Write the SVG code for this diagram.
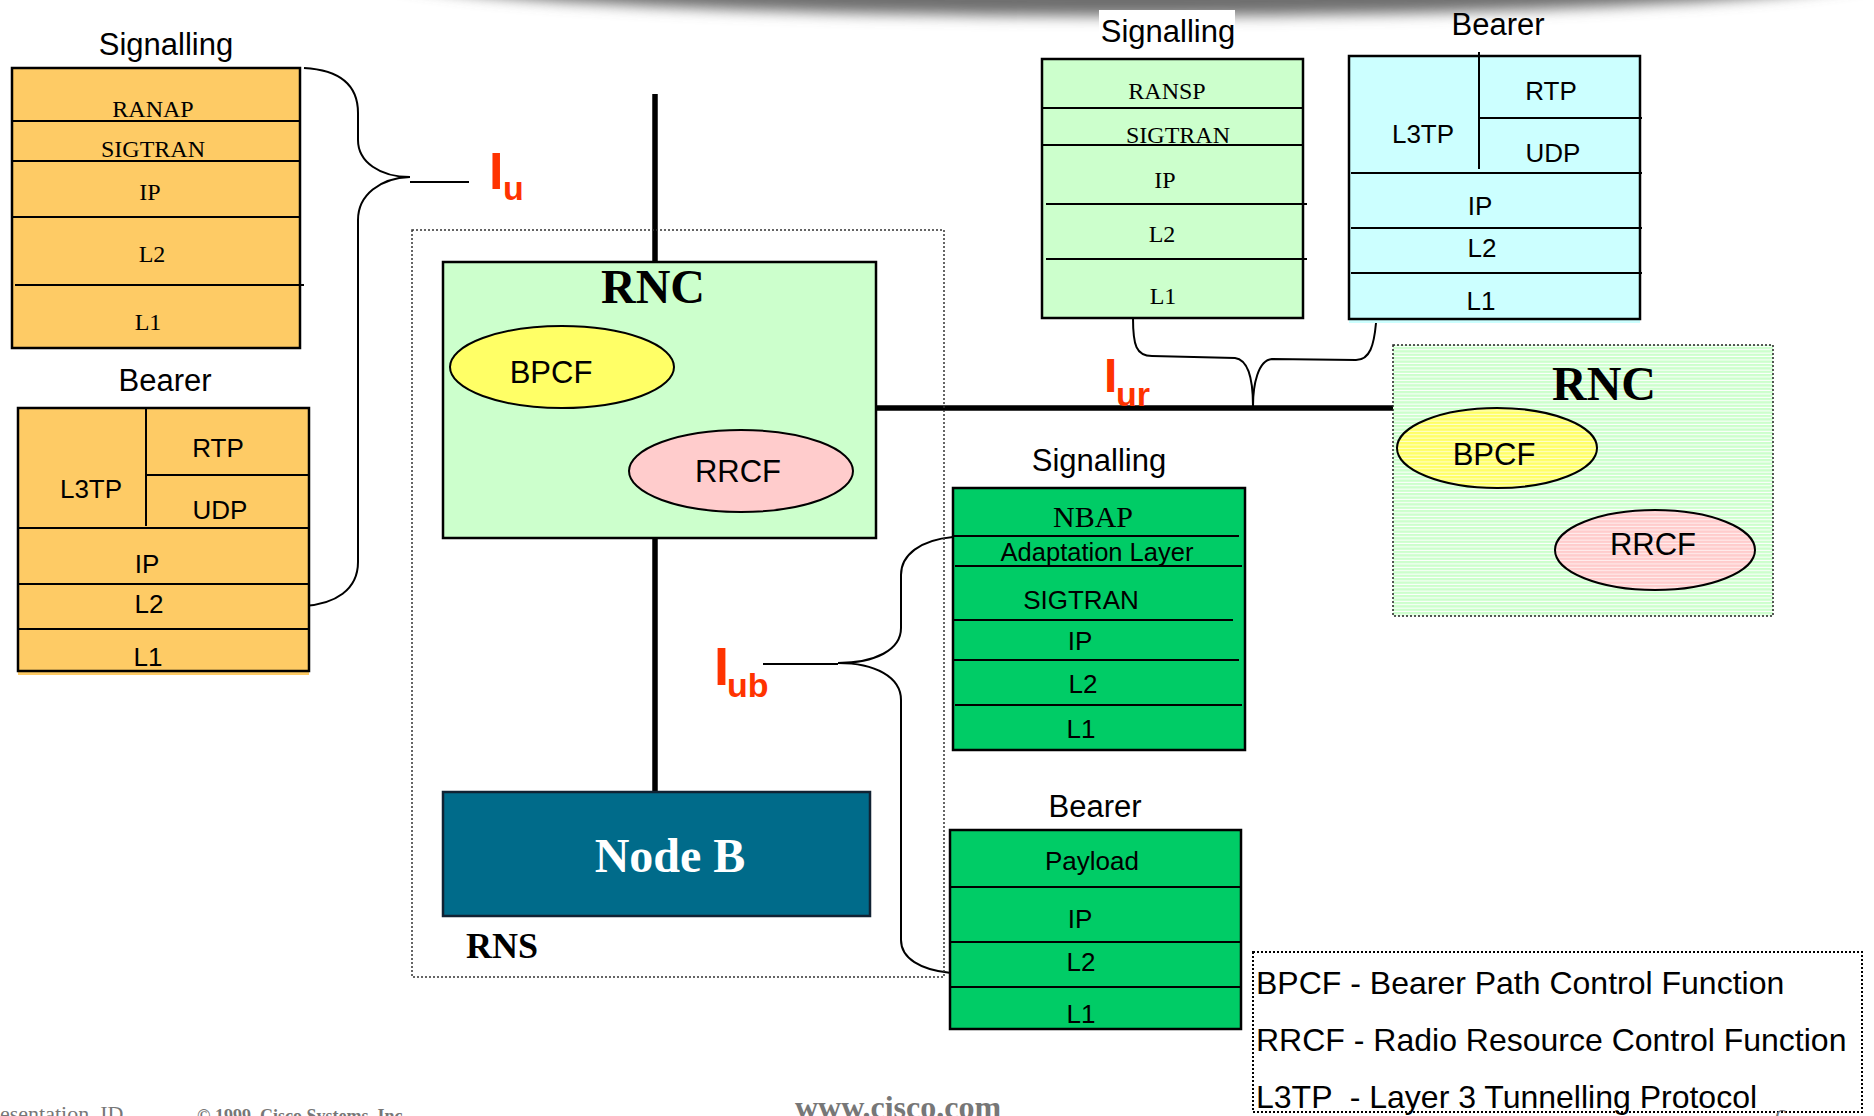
<svg xmlns="http://www.w3.org/2000/svg" width="1874" height="1116" viewBox="0 0 1874 1116">
<defs>
<filter id="blur" x="-20%" y="-200%" width="140%" height="500%"><feGaussianBlur stdDeviation="7"/></filter>
<pattern id="stG" width="8" height="3.4" patternUnits="userSpaceOnUse"><rect width="8" height="3.4" fill="#CCFFCC"/><rect y="2.4" width="8" height="1" fill="#FFFFFF"/></pattern>
<pattern id="stY" width="8" height="3.4" patternUnits="userSpaceOnUse"><rect width="8" height="3.4" fill="#FFFF66"/><rect y="2.4" width="8" height="1" fill="#FFFFFF" opacity="0.7"/></pattern>
<pattern id="stP" width="8" height="3.4" patternUnits="userSpaceOnUse"><rect width="8" height="3.4" fill="#FFCCCC"/><rect y="2.4" width="8" height="1" fill="#FFFFFF" opacity="0.7"/></pattern>
</defs>
<style>
.box{stroke:#000;stroke-width:2.5}
.ln{stroke:#000;stroke-width:2;fill:none}
.sans{font-family:"Liberation Sans",Arial,sans-serif;fill:#000}
.serif{font-family:"Liberation Serif","Times New Roman",serif;fill:#000}
.lbl{font-size:31px;text-anchor:middle}
.t26{font-size:26px;text-anchor:middle}
.t24{font-size:24px;text-anchor:middle}
.orange{fill:#FECB65}
.lgreen{fill:#CCFFCC}
.cyan{fill:#CCFFFF}
.green{fill:#00CC66}
.brace{stroke:#000;stroke-width:2;fill:none}
.thick{stroke:#000;stroke-width:5.5;fill:none}
.dot{fill:none;stroke:#333;stroke-width:1.5;stroke-dasharray:2 2}
.ell{stroke:#000;stroke-width:2}
.ifc{font-family:"Liberation Sans",Arial,sans-serif;font-weight:bold;fill:#FF3300}
.big{font-family:"Liberation Serif","Times New Roman",serif;font-weight:bold;font-size:48px;text-anchor:middle}
.fn{font-family:"Liberation Sans",Arial,sans-serif;font-size:31px;text-anchor:middle;fill:#000}
.leg{font-family:"Liberation Sans",Arial,sans-serif;font-size:32px;fill:#000;white-space:pre}
.foot{font-family:"Liberation Serif","Times New Roman",serif;fill:#777}
</style>

<g id="header-shadow">
<ellipse cx="1130" cy="-28" rx="760" ry="44" fill="#6E6E6E" filter="url(#blur)"/>
<rect x="1099" y="10" width="136" height="38" fill="#FFFFFF"/>
</g>

<g id="connectors">
<line class="thick" x1="655" y1="94" x2="655" y2="792"/>
<line class="thick" x1="876" y1="408" x2="1394" y2="408" stroke-width="6"/>
<path class="brace" d="M304,68 C340,70 358,85 358,113 L358,140 C358,162 380,177 410,177 C380,178 358,195 358,220 L358,562 C358,590 335,604 304,606"/>
<line class="brace" x1="410" y1="182" x2="469" y2="182"/>
<path class="brace" d="M953,537 C920,540 901,555 901,575 L901,628 C901,650 875,663 838,663 C875,663 901,677 901,700 L901,940 C901,958 920,970 951,973"/>
<line class="brace" x1="763" y1="664" x2="838" y2="664"/>
<path class="brace" d="M1133,318 C1133,345 1136,356 1152,356 L1235,358 C1250,360 1253,385 1253,406"/>
<path class="brace" d="M1376,323 C1374,345 1370,360 1356,360 L1272,359 C1258,360 1253,385 1253,406"/>
</g>

<g id="iu-label">
<text class="ifc" x="489" y="189" font-size="52">I</text>
<text class="ifc" x="503" y="200" font-size="34">u</text>
</g>
<g id="iur-label">
<text class="ifc" x="1104" y="392" font-size="48">I</text>
<text class="ifc" x="1116" y="406" font-size="34">ur</text>
</g>
<g id="iub-label">
<text class="ifc" x="714" y="685" font-size="54">I</text>
<text class="ifc" x="727" y="697" font-size="34">ub</text>
</g>

<g id="iu-signalling">
<text class="sans lbl" x="166" y="55">Signalling</text>
<rect class="box orange" x="12" y="68" width="288" height="280"/>
<line class="ln" x1="12" y1="121" x2="300" y2="121"/>
<line class="ln" x1="12" y1="161" x2="300" y2="161"/>
<line class="ln" x1="12" y1="217" x2="300" y2="217"/>
<line class="ln" x1="15" y1="285" x2="304" y2="285"/>
<text class="serif t24" x="153" y="117">RANAP</text>
<text class="serif t24" x="153" y="157">SIGTRAN</text>
<text class="serif t24" x="150" y="200">IP</text>
<text class="serif t24" x="152" y="262">L2</text>
<text class="serif t24" x="148" y="330">L1</text>
</g>

<g id="iu-bearer">
<text class="sans lbl" x="165" y="391">Bearer</text>
<rect x="18" y="668" width="291" height="7" class="orange"/>
<rect class="box orange" x="18" y="408" width="291" height="263"/>
<line class="ln" x1="146" y1="408" x2="146" y2="526"/>
<line class="ln" x1="146" y1="475" x2="309" y2="475"/>
<line class="ln" x1="18" y1="528" x2="309" y2="528"/>
<line class="ln" x1="18" y1="584" x2="309" y2="584"/>
<line class="ln" x1="18" y1="629" x2="309" y2="629"/>
<text class="sans t26" x="218" y="457">RTP</text>
<text class="sans t26" x="91" y="498">L3TP</text>
<text class="sans t26" x="220" y="519">UDP</text>
<text class="sans t26" x="147" y="573">IP</text>
<text class="sans t26" x="149" y="613">L2</text>
<text class="sans t26" x="148" y="666">L1</text>
</g>

<g id="rns">
<rect class="dot" x="412" y="230" width="532" height="747"/>
<text class="serif" x="466" y="958" font-size="36" font-weight="bold">RNS</text>
</g>

<g id="rnc-main">
<rect class="box lgreen" x="443" y="262" width="433" height="276"/>
<text class="serif big" x="653" y="303">RNC</text>
<ellipse class="ell" cx="562" cy="367" rx="112" ry="41" fill="#FFFF66"/>
<text class="fn" x="551" y="383">BPCF</text>
<ellipse class="ell" cx="741" cy="471" rx="112" ry="41" fill="#FFCCCC"/>
<text class="fn" x="738" y="482">RRCF</text>
</g>

<g id="node-b">
<rect x="443" y="792" width="427" height="124" fill="#006B8A" stroke="#123" stroke-width="2.5"/>
<text class="big" x="670" y="872" fill="#FFFFFF">Node B</text>
</g>

<g id="iur-signalling">
<text class="sans lbl" x="1168" y="42">Signalling</text>
<rect class="box lgreen" x="1042" y="59" width="261" height="259"/>
<line class="ln" x1="1042" y1="108" x2="1303" y2="108"/>
<line class="ln" x1="1042" y1="145" x2="1303" y2="145"/>
<line class="ln" x1="1046" y1="204" x2="1307" y2="204"/>
<line class="ln" x1="1046" y1="259" x2="1307" y2="259"/>
<text class="serif t24" x="1167" y="99">RANSP</text>
<text class="serif t24" x="1178" y="143">SIGTRAN</text>
<text class="serif t24" x="1165" y="188">IP</text>
<text class="serif t24" x="1162" y="242">L2</text>
<text class="serif t24" x="1163" y="304">L1</text>
</g>

<g id="iur-bearer">
<text class="sans lbl" x="1498" y="35">Bearer</text>
<rect x="1349" y="317" width="291" height="6" class="cyan"/>
<rect class="box cyan" x="1349" y="56" width="291" height="263"/>
<line class="ln" x1="1479" y1="52" x2="1479" y2="169"/>
<line class="ln" x1="1479" y1="118" x2="1642" y2="118"/>
<line class="ln" x1="1351" y1="173" x2="1642" y2="173"/>
<line class="ln" x1="1351" y1="228" x2="1642" y2="228"/>
<line class="ln" x1="1351" y1="273" x2="1642" y2="273"/>
<text class="sans t26" x="1551" y="100">RTP</text>
<text class="sans t26" x="1423" y="143">L3TP</text>
<text class="sans t26" x="1553" y="162">UDP</text>
<text class="sans t26" x="1480" y="215">IP</text>
<text class="sans t26" x="1482" y="257">L2</text>
<text class="sans t26" x="1481" y="310">L1</text>
</g>

<g id="rnc-remote">
<rect x="1393" y="345" width="380" height="271" fill="url(#stG)" stroke="#222" stroke-width="1.5" stroke-dasharray="2 2"/>
<text class="serif big" x="1604" y="400">RNC</text>
<ellipse class="ell" cx="1497" cy="448" rx="100" ry="40" fill="url(#stY)"/>
<text class="fn" x="1494" y="465">BPCF</text>
<ellipse class="ell" cx="1655" cy="550" rx="100" ry="40" fill="url(#stP)"/>
<text class="fn" x="1653" y="555">RRCF</text>
</g>

<g id="iub-signalling">
<text class="sans lbl" x="1099" y="471">Signalling</text>
<rect class="box green" x="953" y="488" width="292" height="262"/>
<line class="ln" x1="953" y1="536" x2="1239" y2="536"/>
<line class="ln" x1="955" y1="566" x2="1242" y2="566"/>
<line class="ln" x1="953" y1="620" x2="1233" y2="620"/>
<line class="ln" x1="953" y1="660" x2="1239" y2="660"/>
<line class="ln" x1="955" y1="705" x2="1242" y2="705"/>
<text class="serif" x="1093" y="527" font-size="30" text-anchor="middle">NBAP</text>
<text class="sans" x="1097" y="561" font-size="25.5" text-anchor="middle">Adaptation Layer</text>
<text class="sans t26" x="1081" y="609">SIGTRAN</text>
<text class="sans t26" x="1080" y="650">IP</text>
<text class="sans t26" x="1083" y="693">L2</text>
<text class="sans t26" x="1081" y="738">L1</text>
</g>

<g id="iub-bearer">
<text class="sans lbl" x="1095" y="817">Bearer</text>
<rect class="box green" x="950" y="830" width="291" height="199"/>
<line class="ln" x1="950" y1="887" x2="1241" y2="887"/>
<line class="ln" x1="950" y1="942" x2="1241" y2="942"/>
<line class="ln" x1="950" y1="987" x2="1241" y2="987"/>
<text class="sans t26" x="1092" y="870">Payload</text>
<text class="sans t26" x="1080" y="928">IP</text>
<text class="sans t26" x="1081" y="971">L2</text>
<text class="sans t26" x="1081" y="1023">L1</text>
</g>

<g id="legend">
<rect x="1253" y="952" width="609" height="160" fill="none" stroke="#000" stroke-width="2" stroke-dasharray="2 2"/>
<text class="leg" x="1256" y="994">BPCF - Bearer Path Control Function</text>
<text class="leg" x="1256" y="1051">RRCF - Radio Resource Control Function</text>
<text class="leg" x="1256" y="1108">L3TP  - Layer 3 Tunnelling Protocol</text>
</g>

<g id="footer">
<text class="foot" x="0" y="1121" font-size="22">esentation_ID</text>
<text class="foot" x="197" y="1122" font-size="18" font-weight="bold">© 1999, Cisco Systems, Inc.</text>
<text class="foot" x="898" y="1118" font-size="32" font-weight="bold" text-anchor="middle">www.cisco.com</text>
<text class="foot" x="1775" y="1125" font-size="24">6</text>
</g>
</svg>
